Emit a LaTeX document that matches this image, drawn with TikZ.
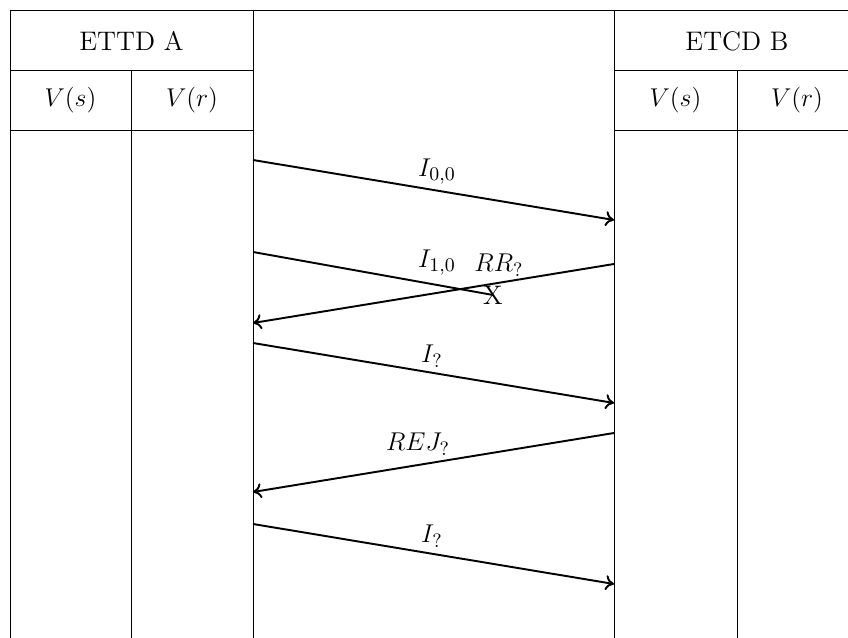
\documentclass[tikz,border=0pt]{standalone}
\usetikzlibrary{arrows.meta}
\begin{document}
\begin{tikzpicture}[x=0.01639cm,y=-0.01639cm,
  every node/.style={font=\fontsize{12.5}{15}\selectfont},
  grid/.style={draw=black, line width=0.35pt},
  msg/.style={draw=black, line width=0.9pt, -{To[length=4pt,width=7pt]}},
  lbl/.style={inner sep=0pt}]
\useasboundingbox (0,0) rectangle (848,638);
% table lines
\draw[grid] (10,638) -- (10,10) -- (860,10);
\draw[grid] (10,70) -- (253,70) (10,130) -- (253,130);
\draw[grid] (614,70) -- (860,70) (614,130) -- (860,130);
\draw[grid] (131,70) -- (131,638);
\draw[grid] (253,10) -- (253,638);
\draw[grid] (614,10) -- (614,638);
\draw[grid] (737,70) -- (737,638);
% headers
\node (ha) at (131.5,41) {ETTD A};
\node (hb) at (737,41) {ETCD B};
\node (as) at (70.5,100) {$V(s)$};
\node (ar) at (192,100) {$V(r)$};
\node (bs) at (675.5,100) {$V(s)$};
\node (br) at (797,100) {$V(r)$};
% endpoints
\coordinate (a1) at (253,160); \coordinate (b1) at (614,220);
\coordinate (a2) at (253,252);
\node[lbl] (x) at (493,295) {X};
\coordinate (b3) at (614,264); \coordinate (a3) at (253,323);
\coordinate (a4) at (253,343); \coordinate (b4) at (614,403);
\coordinate (b5) at (614,433); \coordinate (a5) at (253,492);
\coordinate (a6) at (253,524); \coordinate (b6) at (614,584);
% messages
\draw[line width=0.9pt] (a2) -- (x.center);
\draw[msg] (a1) -- (b1);
\draw[msg] (b3) -- (a3);
\draw[msg] (a4) -- (b4);
\draw[msg] (b5) -- (a5);
\draw[msg] (a6) -- (b6);
% labels
\node (l1) at (437,172) {$I_{0,0}$};
\node (l2) at (437,263) {$I_{1,0}$};
\node (l3) at (499,265) {$RR_?$};
\node (l4) at (432,356) {$I_?$};
\node (l5) at (418,444) {$REJ_?$};
\node (l6) at (432,536) {$I_?$};
\end{tikzpicture}
\end{document}
